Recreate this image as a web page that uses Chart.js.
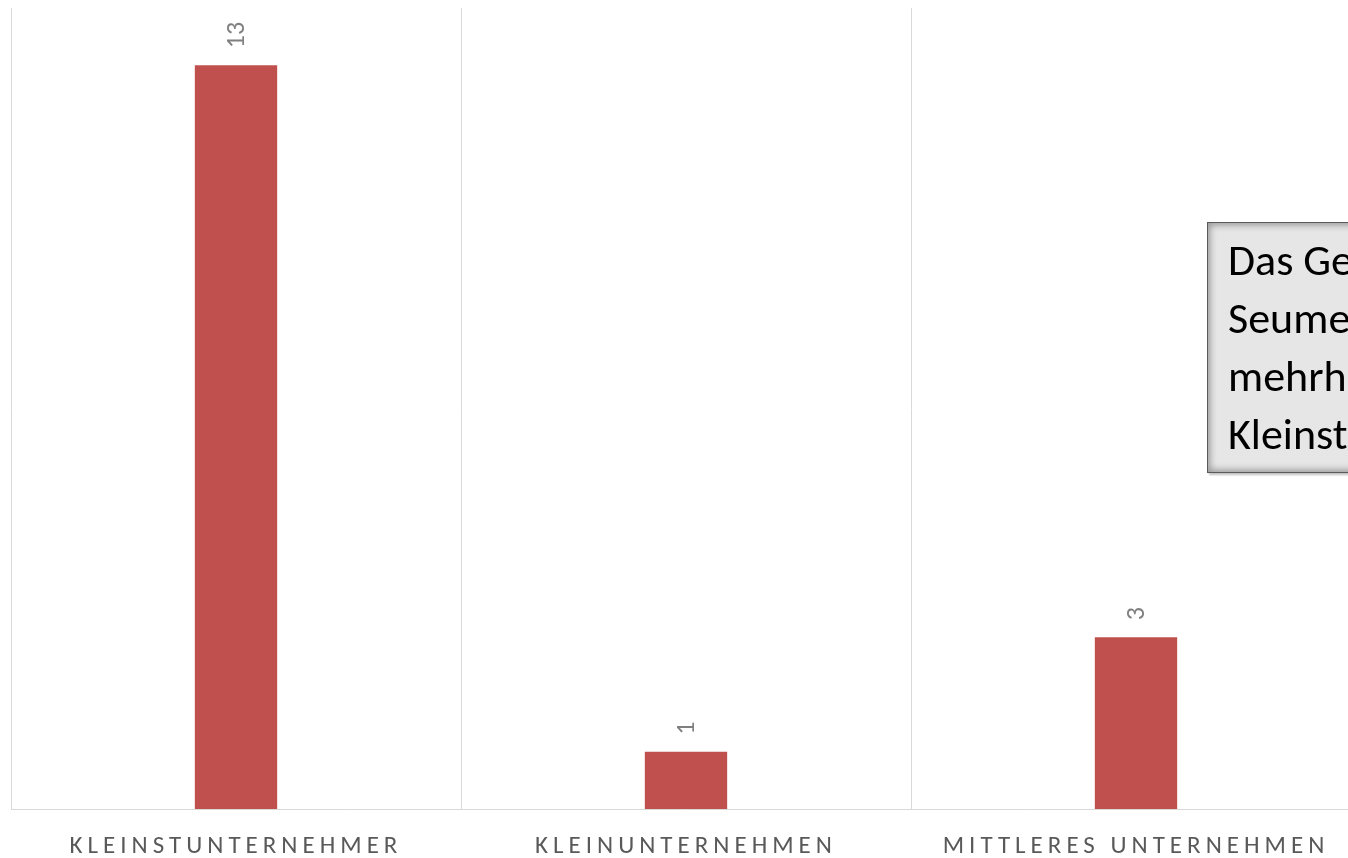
<!DOCTYPE html>
<html>
<head>
<meta charset="utf-8">
<script src="https://cdn.jsdelivr.net/npm/chart.js@4"></script>
<style>
  html, body { margin: 0; padding: 0; background: #ffffff; overflow: hidden; width: 1348px; height: 858px; }
  #wrap { position: absolute; left: 0; top: 0; width: 1370px; height: 858px; }
  #note {
    position: absolute; left: 1207px; top: 222px; width: 420px; height: 251px;
    border: 1px solid #5a5a5a; background: #e6e6e6;
    box-shadow: inset 0 0 7px 2px rgba(0,0,0,0.35), 2px 2px 2px rgba(0,0,0,0.25);
    font-family: Carlito, Lato, "Open Sans", sans-serif; font-size: 44px; line-height: 58px;
    color: #000; padding: 8px 0 0 20px; box-sizing: border-box; white-space: nowrap;
  }
</style>
</head>
<body>
<div id="wrap"><canvas id="c" width="1370" height="858"></canvas></div>
<div id="note">Das Gewerbegebiet<br>Seumestraße<br>mehrheitlich<br>Kleinstunternehmer</div>
<script>
const categories = ["KLEINSTUNTERNEHMER", "KLEINUNTERNEHMEN", "MITTLERES UNTERNEHMEN"];
const values = [13, 1, 3];
const yMax = 14;

const FONT = 'Carlito, Lato, "Open Sans", sans-serif';

const spacingPlugin = {
  id: 'spacing',
  beforeDraw(chart) { chart.ctx.letterSpacing = '5px'; },
  beforeDatasetsDraw(chart) { chart.ctx.letterSpacing = '0px'; }
};

const labelPlugin = {
  id: 'valueLabels',
  afterDatasetsDraw(chart) {
    const ctx = chart.ctx;
    const meta = chart.getDatasetMeta(0);
    meta.data.forEach((bar, i) => {
      ctx.save();
      ctx.letterSpacing = '0px';
      ctx.translate(bar.x + 1, bar.y - 17);
      ctx.rotate(-Math.PI / 2);
      ctx.font = '26px ' + FONT;
      ctx.fillStyle = '#808080';
      ctx.textAlign = 'left';
      ctx.textBaseline = 'middle';
      ctx.fillText(String(values[i]), 0, 0);
      ctx.restore();
    });
  }
};

new Chart(document.getElementById('c'), {
  type: 'bar',
  data: {
    labels: categories,
    datasets: [{
      data: values,
      backgroundColor: '#c0504d',
      borderWidth: 0,
      categoryPercentage: 1,
      barPercentage: 0.183
    }]
  },
  options: {
    responsive: false,
    animation: false,
    events: [],
    layout: { padding: { left: 11, top: 8, right: 9, bottom: 0 } },
    plugins: { legend: { display: false }, tooltip: { enabled: false } },
    scales: {
      x: {
        grid: { color: '#d9d9d9', lineWidth: 1, drawTicks: false, offset: true },
        border: { color: '#d9d9d9', width: 1 },
        ticks: { color: '#595959', font: { size: 25, family: FONT }, padding: 23, maxRotation: 0, autoSkip: false },
        afterFit(scale) { scale.height = 49; }
      },
      y: { display: false, min: 0, max: yMax }
    }
  },
  plugins: [spacingPlugin, labelPlugin]
});
</script>
</body>
</html>
